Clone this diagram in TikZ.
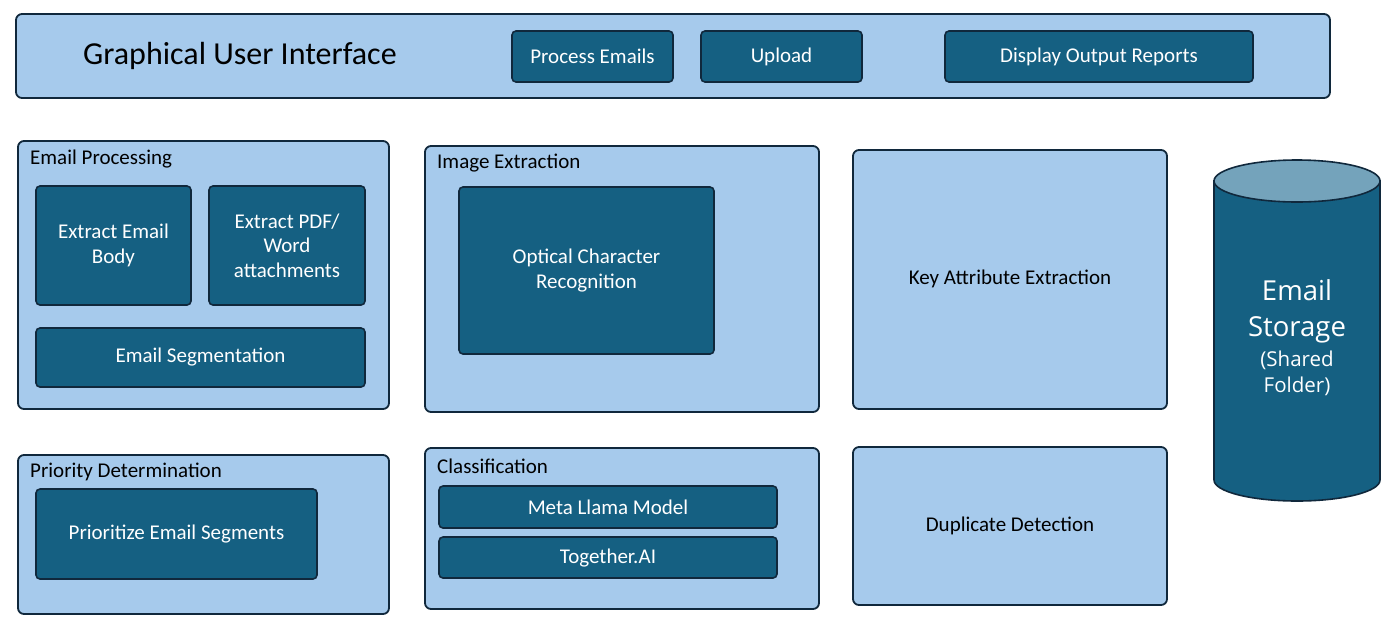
\documentclass[tikz,border=0pt]{standalone}
\usepackage{fontspec}
\setmainfont{Carlito}
\newfontfamily\cylfont{Open Sans}
\definecolor{lightbox}{HTML}{A6CAEC}
\definecolor{darkbox}{HTML}{156082}
\definecolor{edgec}{HTML}{10283C}
\definecolor{cyltop}{HTML}{74A3BB}
\tikzset{
  outerbox/.style={draw=edgec, fill=lightbox, line width=1.8pt, rounded corners=6pt, inner sep=0pt},
  innerbox/.style={draw=edgec, fill=darkbox, line width=1.6pt, rounded corners=4pt, inner sep=0pt,
    text=white, align=center, font=\fontsize{21}{24.5}\selectfont},
  boxlabel/.style={anchor=west, inner sep=0pt, font=\fontsize{21}{24}\selectfont, text=black},
  plainlabel/.style={inner sep=0pt, align=center, font=\fontsize{21}{24}\selectfont, text=black},
  cyltext/.style={inner sep=0pt, anchor=base, text=white}
}
\begin{document}
\begin{tikzpicture}[x=1pt,y=-1pt]
\useasboundingbox (0,0) rectangle (1396,633);
% GUI
\node[outerbox, minimum width=1314, minimum height=84] (gui) at (673,56) {};
\node[inner sep=0pt, anchor=west, font=\fontsize{32}{36}\selectfont] (guit) at (83,56) {Graphical User Interface};
\node[innerbox, minimum width=161, minimum height=51] (pe) at (592.5,56.5) {Process Emails};
\node[innerbox, minimum width=161, minimum height=51] (up) at (781.5,56.5) {Upload};
\node[innerbox, minimum width=308, minimum height=51] (dor) at (1099,56.5) {Display Output Reports};
% Email processing
\node[outerbox, minimum width=371, minimum height=268] (ep) at (203.5,275) {};
\node[boxlabel] (epl) at (30,159) {Email Processing};
\node[innerbox, minimum width=155, minimum height=119] (eeb) at (113.5,245.5) {Extract Email\\Body};
\node[innerbox, minimum width=156, minimum height=119] (pdf) at (287,245.5) {Extract PDF/\\Word\\attachments};
\node[innerbox, minimum width=329, minimum height=59] (seg) at (200.5,357.5) {Email Segmentation};
% Image extraction
\node[outerbox, minimum width=394, minimum height=266] (ie) at (622,279) {};
\node[boxlabel] (iel) at (437,163) {Image Extraction};
\node[innerbox, minimum width=255, minimum height=167] (ocr) at (586.5,270.5) {Optical Character\\Recognition};
% Key attribute
\node[outerbox, minimum width=314, minimum height=259] (kae) at (1010,279.5) {};
\node[plainlabel] (kael) at (1010,279) {Key Attribute Extraction};
% Priority
\node[outerbox, minimum width=371, minimum height=159] (pd) at (203.5,534.5) {};
\node[boxlabel] (pdl) at (30,472) {Priority Determination};
\node[innerbox, minimum width=281, minimum height=90] (pes) at (176.5,534) {Prioritize Email Segments};
% Classification
\node[outerbox, minimum width=394, minimum height=161] (cl) at (622,528.5) {};
\node[boxlabel] (cll) at (437,466) {Classification};
\node[innerbox, minimum width=338, minimum height=42] (meta) at (608,507) {Meta Llama Model};
\node[innerbox, minimum width=338, minimum height=41] (tog) at (608,557.5) {Together.AI};
% Duplicate
\node[outerbox, minimum width=314, minimum height=158] (dd) at (1010,526) {};
\node[plainlabel] (ddl) at (1010,526) {Duplicate Detection};
% Cylinder
\draw[draw=edgec, fill=darkbox, line width=1.6pt]
  (1214,181) -- (1214,480) arc[start angle=180, end angle=0, x radius=83, y radius=21] -- (1380,181) -- cycle;
\draw[draw=edgec, fill=cyltop, line width=1.6pt] (1297,181) ellipse[x radius=83, y radius=21];
\node[cyltext, font=\cylfont\fontsize{27.5}{30}\selectfont] (st1) at (1297,300) {Email};
\node[cyltext, font=\cylfont\fontsize{27.5}{30}\selectfont] (st2) at (1297,336) {Storage};
\node[cyltext, font=\cylfont\fontsize{20.5}{24}\selectfont] (st3) at (1297,366) {(Shared};
\node[cyltext, font=\cylfont\fontsize{20.5}{24}\selectfont] (st4) at (1297,392) {Folder)};
\end{tikzpicture}
\end{document}
